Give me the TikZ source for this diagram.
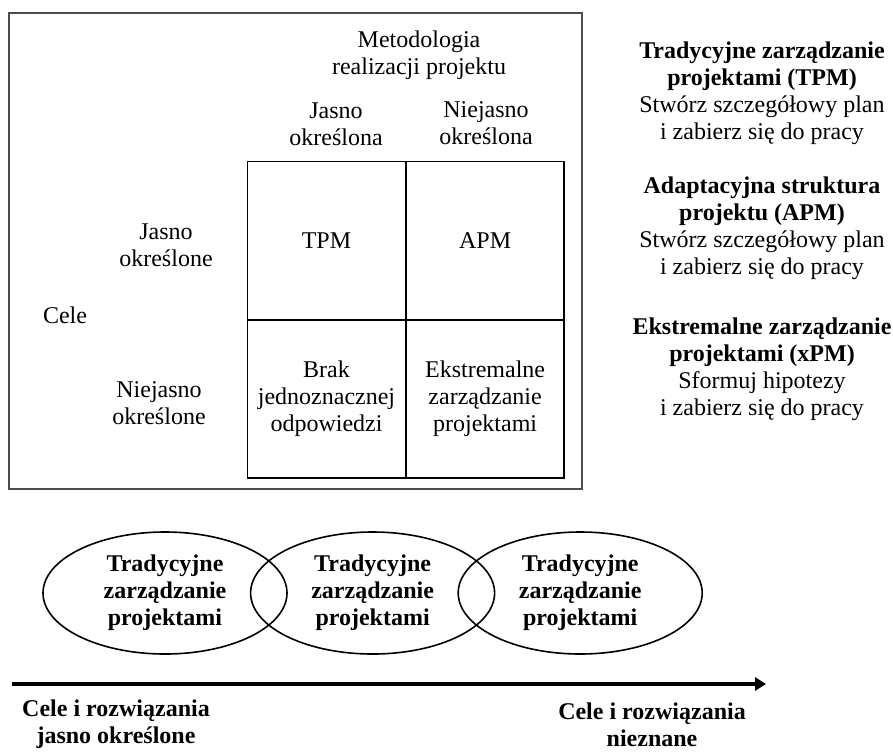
\documentclass[tikz,border=0pt]{standalone}
\usepackage{fontspec}
\setmainfont{Liberation Serif}
\usetikzlibrary{positioning}
\usetikzlibrary{shapes.geometric}
\usetikzlibrary{arrows.meta}

\tikzset{
  txt/.style={align=center, inner sep=0pt, font=\fontsize{24}{27}\selectfont},
  boldtxt/.style={txt, font=\fontsize{24}{27}\selectfont\bfseries},
  cell/.style={txt, draw, line width=1.4pt, outer sep=0.3pt, minimum width=158pt, minimum height=158pt},
  oval/.style={boldtxt, ellipse, draw, line width=1.6pt, minimum width=244pt, minimum height=122pt},
}

\begin{document}
\begin{tikzpicture}[x=1pt, y=-1pt]
  \useasboundingbox (0,0) rectangle (893,753);

  % frame of the matrix
  \draw[gray!60!black, line width=1.5pt] (9,13) rectangle (582,489);

  \node[txt](method) at (419,55) {Metodologia\\realizacji projektu};
  \node[txt](mclear) at (336,124) {Jasno\\określona};
  \node[txt](munclear) at (486,123) {Niejasno\\określona};
  \node[txt](gclear) at (166,245) {Jasno\\określone};
  \node[txt, anchor=base](goals) at (65,323) {Cele};
  \node[txt](gunclear) at (159,403) {Niejasno\\określone};

  \node[cell](tpm) at (326.5,240.5) {TPM};
  \node[cell, right=0pt of tpm](apm) {APM};
  \node[cell, below=0pt of tpm](noanswer) {Brak\\jednoznacznej\\odpowiedzi};
  \node[cell, right=0pt of noanswer](xpm) {Ekstremalne\\zarządzanie\\projektami};

  % notes on the right
  \node[txt](tpmnote) at (762,93) {\textbf{Tradycyjne zarządzanie}\\\textbf{projektami (TPM)}\\Stwórz szczegółowy plan\\i zabierz się do pracy};
  \node[txt](apmnote) at (762,228) {\textbf{Adaptacyjna struktura}\\\textbf{projektu (APM)}\\Stwórz szczegółowy plan\\i zabierz się do pracy};
  \node[txt](xpmnote) at (762,369) {\textbf{Ekstremalne zarządzanie}\\\textbf{projektami (xPM)}\\Sformuj hipotezy\\i zabierz się do pracy};

  % overlapping ovals
  \node[oval](trad1) at (165,593) {Tradycyjne\\zarządzanie\\projektami};
  \node[oval, right=-38pt of trad1](trad2) {Tradycyjne\\zarządzanie\\projektami};
  \node[oval, right=-38pt of trad2](trad3) {Tradycyjne\\zarządzanie\\projektami};

  \coordinate(axisstart) at (12,684);
  \coordinate(axisend) at (766,684);
  \draw[-{Triangle[length=11pt,width=13pt]}, line width=4pt] (axisstart) -- (axisend);

  \node[boldtxt](known) at (116,724) {Cele i rozwiązania\\jasno określone};
  \node[boldtxt](unknown) at (652,725) {Cele i rozwiązania\\nieznane};
\end{tikzpicture}
\end{document}
